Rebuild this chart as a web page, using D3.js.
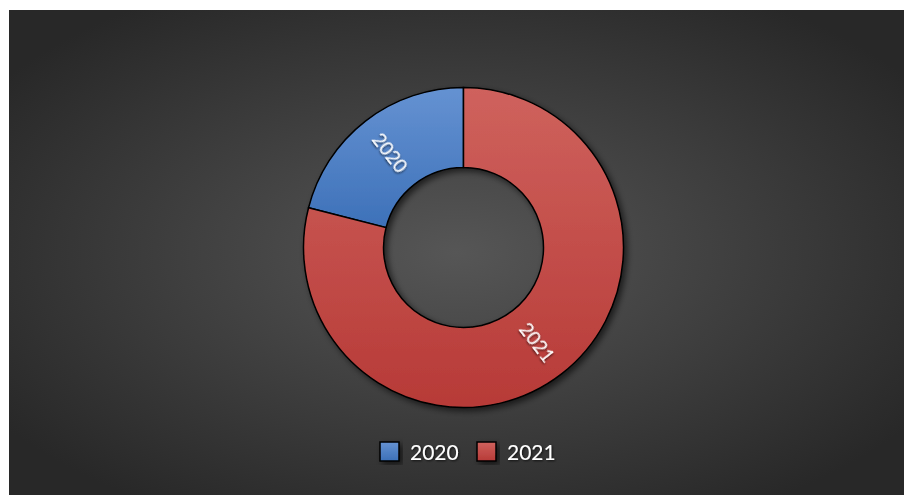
<!DOCTYPE html>
<html>
<head>
<meta charset="utf-8">
<script src="https://cdn.jsdelivr.net/npm/d3@7"></script>
<style>
  html, body { margin: 0; padding: 0; background: #fff; }
  svg { display: block; }
</style>
</head>
<body>
<div id="chart"></div>
<script>
'use strict'

// data
const years = ['2020', '2021']
const shares = [21, 79]
const colorsTop = ['#6592d2', '#cf625d']
const colorsBottom = ['#3c70b8', '#b73a37']

const svgWidth = 904, svgHeight = 495
const plot = { x: 9, y: 10, w: svgWidth - 9, h: svgHeight - 10 }
const cx = 463.5, cy = 247.5
const outerR = 160, innerR = 80

const svg = d3.select('#chart')
    .append('svg')
    .attr('width', svgWidth)
    .attr('height', svgHeight)

const defs = svg.append('defs')

// background gradient
const bg = defs.append('radialGradient')
    .attr('id', 'bg')
    .attr('cx', '50%').attr('cy', '50%').attr('r', '62%')
bg.append('stop').attr('offset', '0%').attr('stop-color', '#565656')
bg.append('stop').attr('offset', '100%').attr('stop-color', '#282828')

years.forEach((y, i) => {
    // gradient in the donut group's coordinates (origin at centre)
    const g = defs.append('linearGradient')
        .attr('id', 'fill' + i)
        .attr('gradientUnits', 'userSpaceOnUse')
        .attr('x1', 0).attr('x2', 0)
        .attr('y1', -outerR).attr('y2', outerR)
    g.append('stop').attr('offset', '0%').attr('stop-color', colorsTop[i])
    g.append('stop').attr('offset', i == 0 ? '45%' : '100%').attr('stop-color', colorsBottom[i])

    const lg = defs.append('linearGradient')
        .attr('id', 'leg' + i)
        .attr('x1', 0).attr('x2', 0).attr('y1', 0).attr('y2', 1)
    lg.append('stop').attr('offset', '0%').attr('stop-color', colorsTop[i])
    lg.append('stop').attr('offset', '100%').attr('stop-color', colorsBottom[i])
})

const shadow = defs.append('filter').attr('id', 'shadow')
    .attr('x', '-20%').attr('y', '-20%').attr('width', '140%').attr('height', '140%')
shadow.append('feDropShadow')
    .attr('dx', 3).attr('dy', 3).attr('stdDeviation', 3)
    .attr('flood-color', '#000').attr('flood-opacity', 0.6)

const tshadow = defs.append('filter').attr('id', 'tshadow')
tshadow.append('feDropShadow')
    .attr('dx', 1).attr('dy', 1).attr('stdDeviation', 0.8)
    .attr('flood-color', '#000').attr('flood-opacity', 0.7)

svg.append('rect')
    .attr('x', plot.x).attr('y', plot.y)
    .attr('width', plot.w).attr('height', plot.h)
    .attr('fill', 'url(#bg)')

// donut: 2020 sits left of 12 o'clock so 2021 begins at the top
const offset = -shares[0] / 100 * 2 * Math.PI
const pie = d3.pie()
    .sort(null)
    .value(d => d.v)
    .startAngle(offset)
    .endAngle(2 * Math.PI + offset)

const arcs = pie(years.map((y, i) => ({ y: y, v: shares[i], i: i })))

const arc = d3.arc().innerRadius(innerR).outerRadius(outerR)

const donut = svg.append('g')
    .attr('transform', `translate(${cx},${cy})`)

donut.append('g')
    .attr('filter', 'url(#shadow)')
    .selectAll('path')
    .data(arcs)
    .join('path')
    .attr('d', arc)
    .attr('fill', d => 'url(#fill' + d.data.i + ')')
    .attr('stroke', '#000')
    .attr('stroke-width', 1.5)

// labels
const labelR = (innerR + outerR) / 2
donut.selectAll('.label')
    .data(arcs)
    .join('text')
    .attr('class', 'label')
    .attr('transform', d => {
        const a = (d.startAngle + d.endAngle) / 2
        const x = Math.sin(a) * labelR, y = -Math.cos(a) * labelR
        let rot = a * 180 / Math.PI - 90
        if (rot > 90) rot -= 180
        if (rot < -90) rot += 180
        return `translate(${x},${y}) rotate(${rot})`
    })
    .attr('text-anchor', 'middle')
    .attr('dy', '0.35em')
    .attr('fill', '#fff')
    .attr('filter', 'url(#tshadow)')
    .style('font-family', 'Lato, "Open Sans", sans-serif')
    .style('font-size', '19px')
    .text(d => d.data.y)

// legend
const legX = [380, 477]
const legend = svg.append('g')
legend.selectAll('rect')
    .data(years)
    .join('rect')
    .attr('x', (d, i) => legX[i])
    .attr('y', 442)
    .attr('width', 19).attr('height', 19)
    .attr('fill', (d, i) => 'url(#leg' + i + ')')
    .attr('stroke', '#000')
    .attr('stroke-width', 1.5)
    .attr('filter', 'url(#shadow)')
legend.selectAll('text')
    .data(years)
    .join('text')
    .attr('x', (d, i) => legX[i] + 30)
    .attr('y', 460)
    .attr('fill', '#fff')
    .attr('filter', 'url(#tshadow)')
    .style('font-family', 'Lato, "Open Sans", sans-serif')
    .style('font-size', '21px')
    .text(d => d)
</script>
</body>
</html>
